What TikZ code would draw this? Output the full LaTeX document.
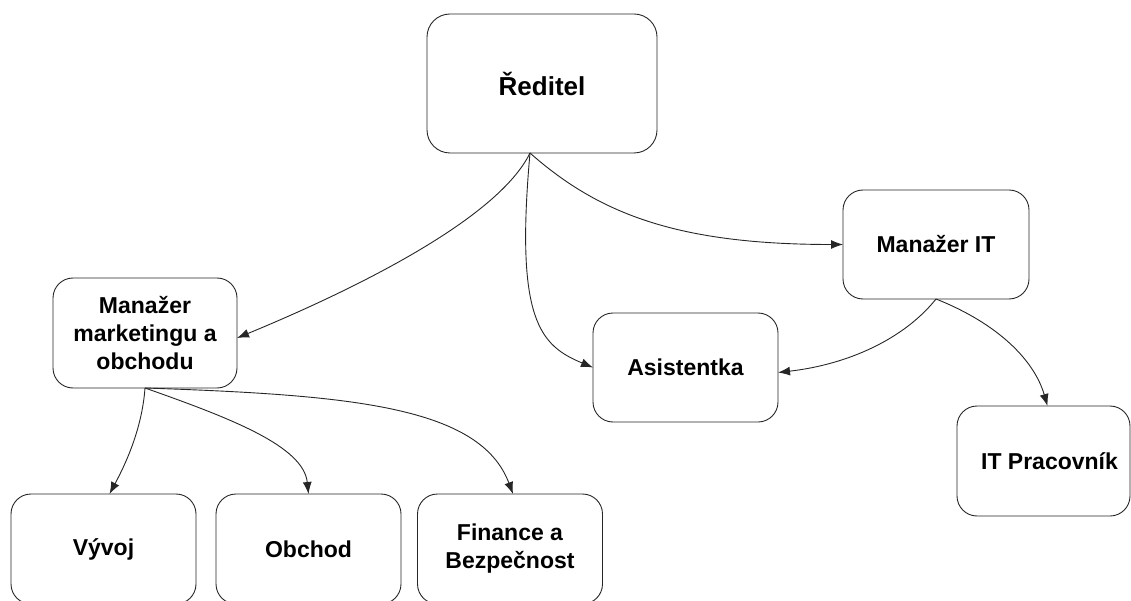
\documentclass[tikz,border=0pt]{standalone}
\usepackage{fontspec}
\setmainfont{Liberation Sans}
\usetikzlibrary{arrows.meta}
\tikzset{
  box/.style={draw=black!85, line width=0.9pt, rounded corners=20pt, align=center,
    inner sep=0pt, outer sep=0pt, font=\bfseries\fontsize{23}{28}\selectfont},
  conn/.style={-{Latex[length=12pt,width=9pt]}, line width=0.9pt, draw=black!85}
}
\begin{document}
\begin{tikzpicture}[x=1pt,y=-1pt]
\useasboundingbox (0,0) rectangle (1131,601);
\node[box, minimum width=230pt, minimum height=139pt, rounded corners=23pt,
  font=\bfseries\fontsize{26}{31}\selectfont] (red) at (542,83.5) {Ředitel};
\node[box, minimum width=186pt, minimum height=109pt] (mit) at (936,244.5) {Manažer IT};
\node[box, minimum width=184pt, minimum height=110pt] (mmo) at (145,333) {Manažer\\marketingu a\\obchodu};
\node[box, minimum width=185pt, minimum height=109pt] (asi) at (685.5,367.5) {Asistentka};
\node[box, minimum width=173pt, minimum height=110pt] (itp) at (1043.5,461) {\hspace*{12pt}IT Pracovník};
\node[box, minimum width=185pt, minimum height=110pt] (vyv) at (103.5,549) {Vývoj};
\node[box, minimum width=185pt, minimum height=110pt] (obc) at (308.5,549) {Obchod};
\node[box, minimum width=185pt, minimum height=110pt] (fin) at (510,549) {Finance a\\Bezpečnost};

\coordinate (rs) at ([xshift=-12pt]red.south);

\draw[conn] (rs) .. controls +(-35,72) and +(92,-38) .. ([yshift=-5pt]mmo.east);
\draw[conn] (rs) .. controls +(-15,167) and +(-53,-22) .. (asi.west);
\draw[conn] (rs) .. controls +(70,62) and +(-163,0) .. (mit.west);
\draw[conn] (mit.south) .. controls +(-32,40) and +(70,-8) .. ([yshift=-5pt]asi.east);
\draw[conn] (mit.south) .. controls +(63,25) and +(-13,-45) .. ([xshift=4pt]itp.north);
\draw[conn] (mmo.south) .. controls +(-3,42) and +(15,-28) .. ([xshift=6pt]vyv.north);
\draw[conn] (mmo.south) .. controls +(85,30) and +(-5,-48) .. (obc.north);
\draw[conn] (mmo.south) .. controls +(205,7) and +(-33,-88) .. ([xshift=3pt]fin.north);
\end{tikzpicture}
\end{document}
